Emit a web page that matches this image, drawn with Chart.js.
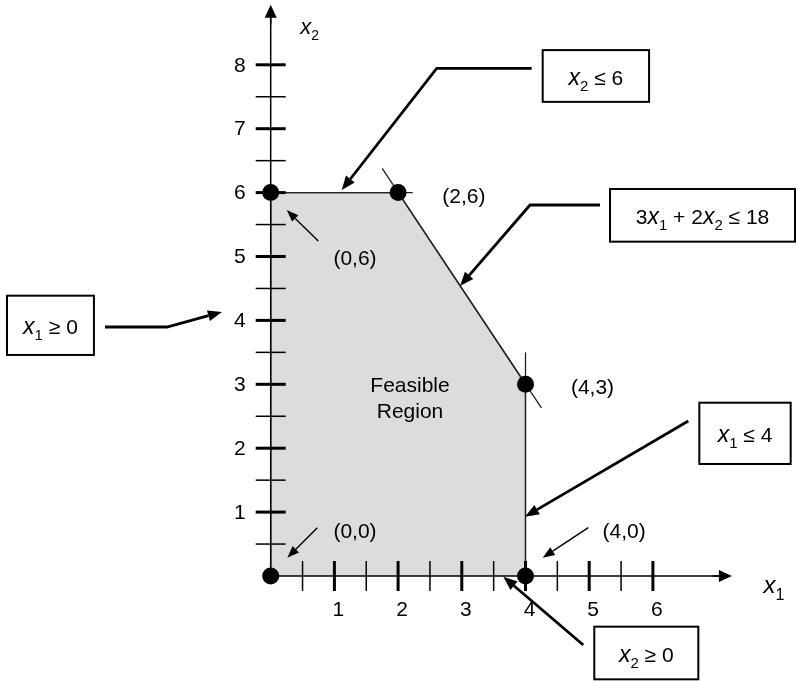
<!DOCTYPE html>
<html>
<head>
<meta charset="utf-8">
<title>Feasible Region</title>
<script src="https://cdn.jsdelivr.net/npm/chart.js@4.4.0/dist/chart.umd.min.js"></script>
<style>
    html, body { margin: 0; padding: 0; background: #fff; }
    #wrap { width: 797px; height: 681px; }
</style>
</head>
<body>
<div id="wrap"><canvas id="lpChart" width="797" height="681"></canvas></div>
<script>
// Corners of the feasible region (x1, x2)
const cornerX = [0, 0, 2, 4, 4];
const cornerY = [0, 6, 6, 3, 0];
const cornerLabels = ['(0,0)', '(0,6)', '(2,6)', '(4,3)', '(4,0)'];

// Constraint lines, as far as they are drawn
const x2LimitX = [0, 2.23];
const x2LimitY = [6, 6];
const sumLimitX = [1.75, 4.25];
const sumLimitY = [6.38, 2.63];
const x1LimitX = [4, 4];
const x1LimitY = [0, 3.5];

// Axes
const xMajor = [1, 2, 3, 4, 5, 6];
const xMinor = [0.5, 1.5, 2.5, 3.5, 4.5, 5.5];
const xTickLabels = ['1', '2', '3', '4', '5', '6'];
const yMajor = [1, 2, 3, 4, 5, 6, 7, 8];
const yMinor = [0.5, 1.5, 2.5, 3.5, 4.5, 5.5, 6.5, 7.5];
const yTickLabels = ['1', '2', '3', '4', '5', '6', '7', '8'];
const axisEndX = 7.24;
const axisEndY = 8.94;

const FONT = '"Liberation Sans", Arial, Helvetica, sans-serif';
const TEXT_SIZE = 21;

// Where the corner labels sit (data units)
const cornerLabelPos = [[1.323, 0.693], [1.323, 4.961], [3.033, 5.926], [5.052, 2.942], [5.549, 0.693]];

// Little arrows pointing at the corners
const cornerArrows = [
    [[0.732, 0.756], [0.261, 0.286]],
    [[0.747, 5.243], [0.251, 5.728]],
    [[4.986, 0.756], [4.270, 0.286]]
];

// Constraint call-outs: box [left, top, right, bottom], text parts, arrow path
const callouts = [
    { box: [4.27, 8.23, 5.94, 7.42], text: [['x', 'i'], ['2', 's'], [' \u2264 6', 'n']],
      path: [[4.097, 7.945], [2.606, 7.945], [1.115, 6.04]] },
    { box: [5.327, 6.056, 8.231, 5.232], text: [['3', 'n'], ['x', 'i'], ['1', 's'], [' + 2', 'n'], ['x', 'i'], ['2', 's'], [' \u2264 18', 'n']],
      path: [[5.17, 5.806], [4.071, 5.806], [2.972, 4.538]] },
    { box: [-4.14, 4.387, -2.775, 3.459], text: [['x', 'i'], ['1', 's'], [' \u2265 0', 'n']],
      path: [[-2.601, 3.897], [-1.628, 3.897], [-0.765, 4.131]] },
    { box: [6.729, 2.712, 8.163, 1.753], text: [['x', 'i'], ['1', 's'], [' \u2264 4', 'n']],
      path: [[6.556, 2.426], [3.992, 0.928]] },
    { box: [5.08, -0.793, 6.713, -1.617], text: [['x', 'i'], ['2', 's'], [' \u2265 0', 'n']],
      path: [[4.907, -1.08], [3.652, -0.011]] }
];

const toPoints = (xs, ys) => xs.map((x, i) => ({ x: x, y: ys[i] }));

function partFont(kind, size) {
    if (kind === 'i') return 'italic ' + (size + 2) + 'px ' + FONT;
    if (kind === 's') return Math.round(size * 0.72) + 'px ' + FONT;
    return size + 'px ' + FONT;
}

// text with italic variables and subscripts, centred on (cx, cy)
function richText(ctx, parts, cx, cy, size) {
    let total = 0;
    parts.forEach(p => { ctx.font = partFont(p[1], size); total += ctx.measureText(p[0]).width; });
    let x = cx - total / 2;
    const base = cy + size * 0.36;
    ctx.textAlign = 'left';
    ctx.textBaseline = 'alphabetic';
    parts.forEach(p => {
        ctx.font = partFont(p[1], size);
        ctx.fillText(p[0], x, base + (p[1] === 's' ? size * 0.3 : 0));
        x += ctx.measureText(p[0]).width;
    });
}

function arrow(ctx, pts, width, headLen, headHalf) {
    const n = pts.length;
    const [tx, ty] = pts[n - 1];
    const [px, py] = pts[n - 2];
    const ang = Math.atan2(ty - py, tx - px);
    const bx = tx - Math.cos(ang) * headLen;
    const by = ty - Math.sin(ang) * headLen;
    ctx.lineWidth = width;
    ctx.lineJoin = 'miter';
    ctx.beginPath();
    ctx.moveTo(pts[0][0], pts[0][1]);
    for (let i = 1; i < n - 1; i++) ctx.lineTo(pts[i][0], pts[i][1]);
    ctx.lineTo(bx, by);
    ctx.stroke();
    ctx.beginPath();
    ctx.moveTo(tx, ty);
    ctx.lineTo(bx + Math.sin(ang) * headHalf, by - Math.cos(ang) * headHalf);
    ctx.lineTo(bx - Math.sin(ang) * headHalf, by + Math.cos(ang) * headHalf);
    ctx.closePath();
    ctx.fill();
}

// Ticks, arrowheads, labels and call-outs
const sketchPlugin = {
    id: 'sketch',
    afterDatasetsDraw(chart) {
        const ctx = chart.ctx;
        const sx = chart.scales.x, sy = chart.scales.y;
        const X = v => sx.getPixelForValue(v);
        const Y = v => sy.getPixelForValue(v);
        const x0 = X(0), y0 = Y(0);

        ctx.save();
        ctx.strokeStyle = '#000';
        ctx.fillStyle = '#000';

        // tick marks
        ctx.lineCap = 'butt';
        [[xMinor, 1.5], [xMajor, 3]].forEach(([vals, w]) => {
            ctx.lineWidth = w;
            vals.forEach(v => {
                ctx.beginPath();
                ctx.moveTo(X(v), y0 - 15);
                ctx.lineTo(X(v), y0 + 15);
                ctx.stroke();
            });
        });
        [[yMinor, 1.5], [yMajor, 3]].forEach(([vals, w]) => {
            ctx.lineWidth = w;
            vals.forEach(v => {
                ctx.beginPath();
                ctx.moveTo(x0 - 15, Y(v));
                ctx.lineTo(x0 + 15, Y(v));
                ctx.stroke();
            });
        });

        // axis arrowheads
        arrow(ctx, [[X(axisEndX) - 20, y0], [X(axisEndX), y0]], 1.5, 13, 6);
        arrow(ctx, [[x0, Y(axisEndY) + 20], [x0, Y(axisEndY)]], 1.5, 13, 6);

        // tick labels
        ctx.font = TEXT_SIZE + 'px ' + FONT;
        ctx.textBaseline = 'middle';
        ctx.textAlign = 'center';
        xMajor.forEach((v, i) => ctx.fillText(xTickLabels[i], X(v) + 4, y0 + 34));
        ctx.textAlign = 'right';
        yMajor.forEach((v, i) => ctx.fillText(yTickLabels[i], x0 - 25, Y(v) + 1));

        // axis names
        richText(ctx, [['x', 'i'], ['1', 's']], X(axisEndX) + 42, y0 + 9, 22);
        richText(ctx, [['x', 'i'], ['2', 's']], x0 + 39, 27, 20);

        // corner labels and their arrows
        ctx.font = TEXT_SIZE + 'px ' + FONT;
        ctx.textAlign = 'center';
        ctx.textBaseline = 'middle';
        cornerLabels.forEach((t, i) => ctx.fillText(t, X(cornerLabelPos[i][0]), Y(cornerLabelPos[i][1])));
        cornerArrows.forEach(a => arrow(ctx, a.map(p => [X(p[0]), Y(p[1])]), 1.4, 12, 4.5));

        ctx.fillText('Feasible', X(2.187), Y(2.973));
        ctx.fillText('Region', X(2.187), Y(2.566));

        // constraint call-outs
        callouts.forEach(c => {
            const [l, t, r, b] = c.box;
            ctx.lineWidth = 2;
            ctx.strokeRect(X(l), Y(t), X(r) - X(l), Y(b) - Y(t));
            richText(ctx, c.text, (X(l) + X(r)) / 2, (Y(t) + Y(b)) / 2 + 1, TEXT_SIZE);
            arrow(ctx, c.path.map(p => [X(p[0]), Y(p[1])]), 2.8, 14, 5.5);
        });

        ctx.restore();
    }
};

const ctx = document.getElementById('lpChart').getContext('2d');

new Chart(ctx, {
    type: 'scatter',
    data: {
        datasets: [
            {
                // corner points
                data: toPoints(cornerX, cornerY),
                pointRadius: 8.5,
                pointBackgroundColor: '#000',
                pointBorderWidth: 0,
                showLine: false,
                order: 0
            },
            {
                // x1 axis
                data: [{ x: 0, y: 0 }, { x: axisEndX - 0.1, y: 0 }],
                showLine: true, borderColor: '#000', borderWidth: 1.5, pointRadius: 0, order: 1
            },
            {
                // x2 axis
                data: [{ x: 0, y: 0 }, { x: 0, y: axisEndY - 0.1 }],
                showLine: true, borderColor: '#000', borderWidth: 1.5, pointRadius: 0, order: 1
            },
            {
                data: toPoints(x2LimitX, x2LimitY),
                showLine: true, borderColor: '#222', borderWidth: 1.3, pointRadius: 0, order: 2
            },
            {
                data: toPoints(sumLimitX, sumLimitY),
                showLine: true, borderColor: '#222', borderWidth: 1.3, pointRadius: 0, order: 2
            },
            {
                data: toPoints(x1LimitX, x1LimitY),
                showLine: true, borderColor: '#222', borderWidth: 1.3, pointRadius: 0, order: 2
            },
            {
                // feasible region
                data: toPoints(cornerX, cornerY),
                showLine: true,
                fill: 'origin',
                backgroundColor: '#dcdcdf',
                borderColor: '#222',
                borderWidth: 1.3,
                pointRadius: 0,
                tension: 0,
                order: 3
            }
        ]
    },
    options: {
        responsive: false,
        animation: false,
        events: [],
        layout: { padding: 0, autoPadding: false },
        scales: {
            x: { type: 'linear', display: false, min: -4.2496, max: 8.2622 },
            y: { type: 'linear', display: false, min: -1.6432, max: 9.0141 }
        },
        plugins: {
            legend: { display: false },
            tooltip: { enabled: false }
        }
    },
    plugins: [sketchPlugin]
});
</script>
</body>
</html>
